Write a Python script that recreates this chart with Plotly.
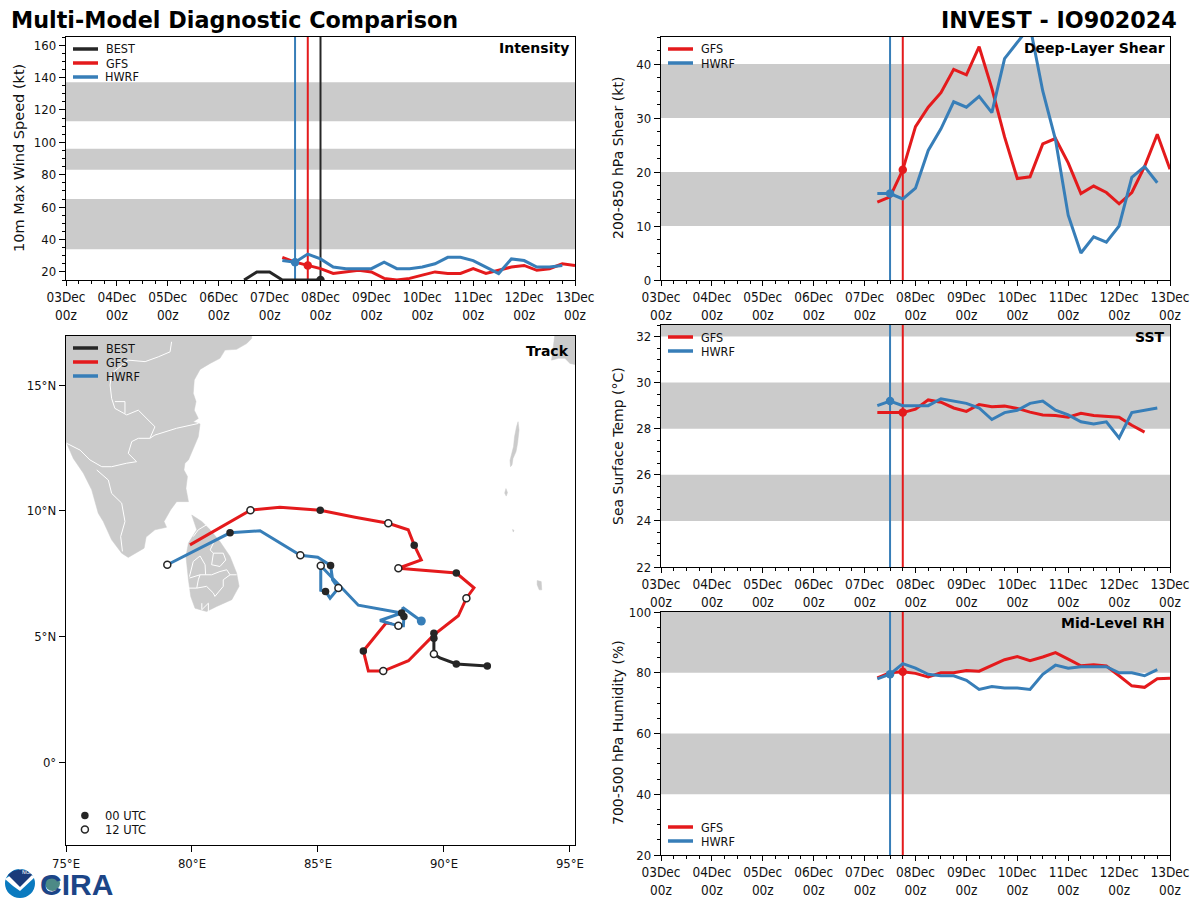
# Multi-model diagnostic comparison for invest IO902024
import pandas as pd
import plotly.graph_objects as go

RED = "#e41a1c"
BLUE = "#377eb8"
BLACK = "#262626"
GREY = "#cbcbcb"

TICK_FONT = "DejaVu Sans Condensed, Liberation Sans Narrow, DejaVu Sans"
TEXT_FONT = "DejaVu Sans"

# forecast values, 6-hourly, first GFS / HWRF point is 07Dec 06z
best_wind = [15, 20, 20, 15, 15, 15, 15]
gfs_wind = [29, 26, 24, 22, 19, 20, 21, 20, 16, 15, 16, 18, 20, 19, 19, 22, 19, 21, 23, 24, 21, 22, 25, 24]
hwrf_wind = [27, 26, 31, 28, 23, 22, 22, 22, 26, 22, 22, 23, 25, 29, 29, 27, 23, 19, 28, 27, 23, 23, 24]

gfs_shear = [14.4, 15.4, 20.4, 28.4, 32, 34.7, 39, 38, 43.2, 35.5, 26.5, 18.8, 19.1, 25.2, 26.2, 21.7, 16, 17.4,
             16.2, 14.1, 16.2, 21, 27, 20.5]
hwrf_shear = [16, 16, 15, 17, 24, 28, 33, 32, 34, 31, 41, 44, 47, 35, 26, 12, 5, 8, 7, 10, 19, 21, 18]

gfs_sst = [28.7, 28.7, 28.7, 28.85, 29.25, 29.15, 28.9, 28.75, 29.05, 28.95, 28.98, 28.88, 28.72, 28.6, 28.57, 28.5,
           28.67, 28.57, 28.53, 28.5, 28.15, 27.85]
hwrf_sst = [29, 29.2, 29, 29, 29, 29.3, 29.2, 29.1, 28.9, 28.4, 28.7, 28.8, 29.1, 29.2, 28.8, 28.6, 28.3, 28.2, 28.3,
            27.6, 28.7, 28.8, 28.9]

gfs_rh = [78.3, 80, 80.3, 79.8, 78.6, 80, 80, 80.7, 80.5, 82.5, 84.3, 85.3, 84, 85.2, 86.6, 84.5, 82.3, 82.6, 82.2,
          79, 75.7, 75.2, 78, 78.2]
hwrf_rh = [78, 79.5, 83, 81.5, 79.5, 79, 79, 77.5, 74.5, 75.5, 75, 75, 74.5, 79.5, 82.5, 81.5, 82, 82, 82, 80, 80,
           79, 81]

# shaded bands per panel
wind_bands = [(34, 65), (83, 96)]
wind_top_band = (113, 137)
shear_bands = [(10, 20), (30, 40)]
sst_bands = [(24, 26), (28, 30), (32, 34)]
rh_bands = [(40, 60), (80, 100)]

# tracks
best_lon = [91.72, 91.10, 90.49, 89.84, 89.60, 89.60, 89.60]
best_lat = [3.82, 3.85, 3.90, 4.14, 4.30, 4.93, 5.12]
gfs_lon = [87.92, 87.70, 86.80, 87.00, 87.59, 88.59, 89.60, 90.57, 90.89, 91.19, 90.49, 88.19, 89.10, 88.82, 88.58,
           87.79, 86.47, 85.09, 83.49, 82.32, 79.92]
gfs_lat = [5.50, 5.53, 4.42, 3.62, 3.62, 4.03, 5.06, 5.82, 6.52, 6.93, 7.52, 7.71, 8.04, 8.63, 9.24, 9.50, 9.74,
           10.02, 10.14, 10.02, 8.64]
hwrf_lon = [89.10, 88.36, 88.41, 88.39, 88.19, 87.46, 88.32, 86.60, 85.11, 85.11, 85.30, 85.48, 85.81, 85.58, 85.50,
            84.99, 84.30, 82.70, 81.51, 79.02]
hwrf_lat = [5.61, 6.15, 5.79, 5.42, 5.42, 5.63, 5.93, 6.24, 7.81, 6.83, 6.79, 6.52, 6.92, 7.25, 7.82, 8.15, 8.23,
            9.20, 9.12, 7.85]

utc00_lon = [91.72, 90.49, 89.60, 89.60, 86.80, 90.49, 88.82, 85.09, 88.32, 88.41, 85.30, 85.50, 81.51]
utc00_lat = [3.82, 3.90, 4.93, 5.12, 4.42, 7.52, 8.63, 10.02, 5.93, 5.79, 6.79, 7.82, 9.12]
utc12_lon = [89.60, 87.59, 90.89, 88.19, 87.79, 82.32, 88.19, 85.11, 85.81, 84.30, 79.02]
utc12_lat = [4.30, 3.62, 6.52, 7.71, 9.50, 10.02, 5.42, 7.81, 6.92, 8.23, 7.85]

# land
india_lon = [75.0, 82.37, 82.37, 82.17, 81.77, 81.31, 81.11, 80.72, 80.32, 80.09, 80.05, 80.16, 80.09, 80.25, 80.05,
             80.32, 80.25, 80.05, 79.86, 79.72, 79.68, 79.82, 79.76, 79.86, 79.39, 79.15, 78.89, 78.99, 78.53, 78.18,
             78.10, 77.47, 77.21, 76.81, 76.48, 76.28, 76.02, 75.69, 75.29, 75.0]
india_lat = [17.0, 17.0, 16.85, 16.65, 16.42, 16.39, 16.06, 15.86, 15.62, 15.20, 14.67, 14.34, 14.00, 13.67, 13.54,
             13.45, 12.94, 12.48, 12.02, 11.89, 11.62, 11.36, 10.89, 10.36, 10.36, 10.03, 9.57, 9.34, 9.24, 8.95,
             8.51, 8.14, 8.31, 8.84, 9.57, 9.90, 10.83, 11.49, 12.08, 12.75]
lanka_lon = [79.99, 80.39, 80.72, 81.11, 81.51, 81.77, 81.87, 81.58, 80.98, 80.58, 80.12, 79.95, 79.86, 79.76, 79.86,
             80.19]
lanka_lat = [9.83, 9.57, 9.24, 8.77, 8.18, 7.52, 6.99, 6.46, 6.19, 5.99, 6.12, 6.59, 7.25, 8.18, 8.71, 9.24]
myanmar_lon = [94.40, 95.3, 95.3, 95.0, 94.8, 94.54, 94.27]
myanmar_lat = [17.0, 17.0, 15.79, 15.86, 16.06, 16.06, 15.99]
islands = [
    ([92.94, 92.98, 92.92, 92.86, 92.74, 92.70, 92.64, 92.62, 92.76, 92.80, 92.88],
     [13.54, 13.21, 12.68, 12.35, 12.08, 11.82, 11.75, 12.0, 12.55, 12.94, 13.34]),
    ([92.46, 92.52, 92.47, 92.41], [10.88, 10.72, 10.58, 10.70]),
    ([92.72, 92.78, 92.75], [9.25, 9.22, 9.15]),
    ([93.70, 93.86, 93.88, 93.78, 93.70], [7.22, 7.18, 6.85, 6.85, 7.05]),
]

# white state / district lines
border_lines = [
    ([79.19, 79.13, 78.66, 78.14, 77.47, 76.81, 76.75, 76.81, 76.94, 77.41, 77.87, 78.14, 78.53, 78.33, 78.53, 79.39,
      80.25],
     [16.72, 16.32, 16.12, 15.93, 15.99, 15.46, 15.0, 14.47, 14.07, 13.81, 14.0, 13.74, 13.34, 12.88, 13.01, 13.28,
      13.47]),
    ([76.94, 77.34, 77.34], [14.34, 14.34, 13.87]),
    ([75.03, 75.56, 75.95, 76.42, 76.81, 77.41, 77.80, 77.47, 77.61, 77.87, 78.33],
     [12.68, 12.41, 12.02, 11.75, 11.75, 11.89, 11.95, 12.28, 12.75, 12.88, 12.88]),
    ([76.22, 76.68, 76.81, 77.21, 77.34, 77.17, 77.24], [11.62, 11.22, 10.69, 10.30, 9.57, 8.97, 8.38]),
    ([79.90, 80.05, 80.32, 80.52, 80.54], [7.38, 7.98, 8.20, 7.85, 7.45]),
    ([79.90, 80.32, 80.54, 80.78, 81.11, 81.38, 81.51, 81.77], [7.32, 7.45, 7.45, 7.45, 7.58, 7.65, 7.45, 7.45]),
    ([80.78, 80.85, 81.24, 81.34, 81.11, 80.78], [7.85, 8.31, 8.31, 8.04, 7.78, 7.85]),
    ([79.86, 80.19, 80.25, 80.32], [6.92, 6.92, 7.25, 7.45]),
    ([80.19, 80.58, 80.85, 80.91, 81.24, 81.24, 81.51], [6.92, 6.99, 6.72, 6.59, 6.99, 7.25, 7.45]),
    ([80.39, 80.39, 80.65, 80.65], [6.32, 6.06, 6.32, 5.99]),
    ([80.85, 80.72, 80.85], [8.71, 8.44, 8.31]),
    ([80.58, 80.25, 80.05], [9.44, 9.24, 8.97]),
]

day_vals = ["2024-12-%02d" % d for d in range(3, 14)]
day_text = ["%02dDec<br>00z" % d for d in range(3, 14)]
lon_vals = [75, 80, 85, 90, 95]
lon_text = ["75°E", "80°E", "85°E", "90°E", "95°E"]
lat_vals = [0, 5, 10, 15]
lat_text = ["0°", "5°N", "10°N", "15°N"]

best_times = pd.date_range("2024-12-06 12:00", periods=len(best_wind), freq="6h")
model_start = "2024-12-07 06:00"
x_start = "2024-12-03"
x_end = "2024-12-13"


def model_times(values):
    return pd.date_range(model_start, periods=len(values), freq="6h")


def px_x(px):
    return px / 1200


def px_y(py):
    return 1 - py / 900


fig = go.Figure()


def time_axes(n, left, right, top, bottom, yrange, yticks, yminor):
    # date axis + value axis for one time series panel
    xname = "xaxis" if n == 1 else "xaxis%d" % n
    yname = "yaxis" if n == 1 else "yaxis%d" % n
    fig.layout[xname] = dict(
        domain=[px_x(left), px_x(right)], anchor="y" if n == 1 else "y%d" % n, type="date",
        range=[x_start, x_end], tickmode="array", tickvals=day_vals, ticktext=day_text,
        ticks="outside", ticklen=5, tickwidth=1.2, tickcolor="black", showgrid=False, zeroline=False,
        minor=dict(dtick=21600000, tick0=x_start, ticks="outside", ticklen=3, tickcolor="black", showgrid=False),
        showline=True, linecolor="black", linewidth=1.4, mirror=True, tickangle=0,
        tickfont=dict(family=TICK_FONT, size=13.5, color="#111111"),
    )
    fig.layout[yname] = dict(
        domain=[px_y(bottom), px_y(top)], anchor="x" if n == 1 else "x%d" % n, range=yrange,
        tickmode="array", tickvals=yticks, ticks="outside", ticklen=6, tickwidth=1.2, tickcolor="black",
        showgrid=False, zeroline=False,
        minor=dict(dtick=yminor, ticks="outside", ticklen=3, tickcolor="black", showgrid=False),
        showline=True, linecolor="black", linewidth=1.4, mirror=True,
        tickfont=dict(family=TICK_FONT, size=13, color="#111111"),
    )


def add_bands(n, bands):
    suffix = "" if n == 1 else str(n)
    for low, high in bands:
        fig.add_shape(type="rect", xref="x%s domain" % suffix, yref="y" + suffix, x0=0, x1=1, y0=low, y1=high,
                      fillcolor=GREY, line_width=0, layer="below")


def add_vline(n, when, color, yrange):
    suffix = "" if n == 1 else str(n)
    fig.add_trace(go.Scatter(x=[when, when], y=yrange, mode="lines", line=dict(color=color, width=2),
                             showlegend=False, xaxis="x" + suffix, yaxis="y" + suffix))


def add_series(n, times, values, color, marker_at):
    suffix = "" if n == 1 else str(n)
    fig.add_trace(go.Scatter(x=times, y=values, mode="lines", line=dict(color=color, width=3), showlegend=False,
                             xaxis="x" + suffix, yaxis="y" + suffix))
    fig.add_trace(go.Scatter(x=[times[marker_at]], y=[values[marker_at]], mode="markers", showlegend=False,
                             marker=dict(color=color, size=8.5), xaxis="x" + suffix, yaxis="y" + suffix))


def add_legend(left, first_y, names, skip_text=()):
    for i, (name, color) in enumerate(names):
        y = first_y + 14 * i
        fig.add_shape(type="line", xref="paper", yref="paper", x0=px_x(left), x1=px_x(left + 25), y0=px_y(y),
                      y1=px_y(y), line=dict(color=color, width=3.5))
        if name in skip_text:
            continue
        fig.add_annotation(xref="paper", yref="paper", x=px_x(left + 31), y=px_y(y), text=name, showarrow=False,
                           xanchor="left", yanchor="middle", font=dict(family=TICK_FONT, size=12.5, color="#111111"))


def add_tag(right, y, text):
    fig.add_annotation(xref="paper", yref="paper", x=px_x(right), y=px_y(y), text="<b>%s</b>" % text, showarrow=False,
                       xanchor="right", yanchor="middle", font=dict(family=TEXT_FONT, size=14, color="black"))


def add_ylabel(x, y, text, size=14):
    fig.add_annotation(xref="paper", yref="paper", x=px_x(x), y=px_y(y), text=text, showarrow=False, textangle=-90,
                       xanchor="center", yanchor="middle", font=dict(family=TEXT_FONT, size=size, color="#111111"))


wind_range = [15, 165]
shear_range = [0, 45]
sst_range = [22, 32.5]
rh_range = [20, 100]

time_axes(1, 66, 575, 37, 280, wind_range, [20, 40, 60, 80, 100, 120, 140, 160], 5)
time_axes(2, 661, 1170, 37, 280, shear_range, [0, 10, 20, 30, 40], 2.5)
time_axes(4, 661, 1170, 325, 567, sst_range, [22, 24, 26, 28, 30, 32], 0.5)
time_axes(5, 661, 1170, 612, 855, rh_range, [20, 40, 60, 80, 100], 5)

add_bands(1, wind_bands)
add_bands(2, shear_bands)
add_bands(4, sst_bands)
add_bands(5, rh_bands)

# the top wind band sits over the HWRF legend label, so both go in as traces
fig.add_trace(go.Scatter(x=["2024-12-03 18:24"], y=[140], mode="text", text=["HWRF"], textposition="middle right",
                         textfont=dict(family=TICK_FONT, size=12.5, color="#111111"), showlegend=False))
fig.add_trace(go.Scatter(x=[x_start, x_end, x_end, x_start], y=[wind_top_band[0], wind_top_band[0], wind_top_band[1],
                                                               wind_top_band[1]],
                         mode="lines", fill="toself", fillcolor=GREY, line=dict(width=0), showlegend=False))

for n, yrange in [(1, wind_range), (2, shear_range), (4, sst_range), (5, rh_range)]:
    add_vline(n, "2024-12-07 12:00", BLUE, yrange)
    add_vline(n, "2024-12-07 18:00", RED, yrange)
add_vline(1, "2024-12-08 00:00", BLACK, wind_range)

add_series(1, best_times, best_wind, BLACK, 6)
add_series(1, model_times(gfs_wind), gfs_wind, RED, 2)
add_series(1, model_times(hwrf_wind), hwrf_wind, BLUE, 1)
add_series(2, model_times(gfs_shear), gfs_shear, RED, 2)
add_series(2, model_times(hwrf_shear), hwrf_shear, BLUE, 1)
add_series(4, model_times(gfs_sst), gfs_sst, RED, 2)
add_series(4, model_times(hwrf_sst), hwrf_sst, BLUE, 1)
add_series(5, model_times(gfs_rh), gfs_rh, RED, 2)
add_series(5, model_times(hwrf_rh), hwrf_rh, BLUE, 1)

# track map
fig.update_layout(
    xaxis3=dict(domain=[px_x(66), px_x(575)], anchor="y3", range=[75, 95.2], tickmode="array", tickvals=lon_vals,
                ticktext=lon_text, ticks="outside", ticklen=6, tickwidth=1.2, tickcolor="black", showgrid=False,
                zeroline=False, showline=True, linecolor="black", linewidth=1.4, mirror=True,
                tickfont=dict(family=TICK_FONT, size=13, color="#111111")),
    yaxis3=dict(domain=[px_y(845), px_y(336)], anchor="x3", range=[-3.3, 16.95], tickmode="array", tickvals=lat_vals,
                ticktext=lat_text, ticks="outside", ticklen=6, tickwidth=1.2, tickcolor="black", showgrid=False,
                zeroline=False, showline=True, linecolor="black", linewidth=1.4, mirror=True,
                tickfont=dict(family=TICK_FONT, size=13, color="#111111")),
)


def add_land(lon, lat):
    fig.add_trace(go.Scatter(x=lon + lon[:1], y=lat + lat[:1], mode="lines", fill="toself", fillcolor=GREY,
                             line=dict(color=GREY, width=0.5), showlegend=False, xaxis="x3", yaxis="y3"))


add_land(india_lon, india_lat)
add_land(lanka_lon, lanka_lat)
add_land(myanmar_lon, myanmar_lat)
for lon, lat in islands:
    add_land(lon, lat)
for lon, lat in border_lines:
    fig.add_trace(go.Scatter(x=lon, y=lat, mode="lines", line=dict(color="white", width=1), showlegend=False,
                             xaxis="x3", yaxis="y3"))

for lon, lat, color in [(best_lon, best_lat, BLACK), (gfs_lon, gfs_lat, RED), (hwrf_lon, hwrf_lat, BLUE)]:
    fig.add_trace(go.Scatter(x=lon, y=lat, mode="lines", line=dict(color=color, width=3), showlegend=False,
                             xaxis="x3", yaxis="y3"))
fig.add_trace(go.Scatter(x=hwrf_lon[:1], y=hwrf_lat[:1], mode="markers", marker=dict(color=BLUE, size=9),
                         showlegend=False, xaxis="x3", yaxis="y3"))
fig.add_trace(go.Scatter(x=utc00_lon, y=utc00_lat, mode="markers", marker=dict(color=BLACK, size=7.5),
                         showlegend=False, xaxis="x3", yaxis="y3"))
fig.add_trace(go.Scatter(x=utc12_lon, y=utc12_lat, mode="markers",
                         marker=dict(color="white", size=7, line=dict(color=BLACK, width=1.5)),
                         showlegend=False, xaxis="x3", yaxis="y3"))

# legends
add_legend(73, 49, [("BEST", BLACK), ("GFS", RED), ("HWRF", BLUE)], skip_text=("HWRF",))
add_legend(73, 348, [("BEST", BLACK), ("GFS", RED), ("HWRF", BLUE)])
add_legend(668, 49, [("GFS", RED), ("HWRF", BLUE)])
add_legend(668, 337, [("GFS", RED), ("HWRF", BLUE)])
add_legend(668, 827, [("GFS", RED), ("HWRF", BLUE)])

# 00/12 UTC key in the track panel
fig.add_trace(go.Scatter(x=[75.75], y=[-2.13], mode="markers", marker=dict(color=BLACK, size=7.5), showlegend=False,
                         xaxis="x3", yaxis="y3"))
fig.add_trace(go.Scatter(x=[75.75], y=[-2.68], mode="markers",
                         marker=dict(color="white", size=7, line=dict(color=BLACK, width=1.5)), showlegend=False,
                         xaxis="x3", yaxis="y3"))
for y, text in [(816, "00 UTC"), (830, "12 UTC")]:
    fig.add_annotation(xref="paper", yref="paper", x=px_x(103), y=px_y(y), text=text, showarrow=False, xanchor="left",
                       yanchor="middle", font=dict(family=TEXT_FONT, size=11.5, color="#111111"))

add_tag(571, 48, "Intensity")
add_tag(1167, 48, "Deep-Layer Shear")
add_tag(571, 351, "Track")
add_tag(1167, 337, "SST")
add_tag(1167, 623, "Mid-Level RH")

add_ylabel(19, 158, "10m Max Wind Speed (kt)", size=14.5)
add_ylabel(618, 158, "200-850 hPa Shear (kt)")
add_ylabel(618, 446, "Sea Surface Temp (°C)")
add_ylabel(618, 733, "700-500 hPa Humidity (%)")

fig.add_annotation(xref="paper", yref="paper", x=px_x(9), y=px_y(20), text="<b>Multi-Model Diagnostic Comparison</b>",
                   showarrow=False, xanchor="left", yanchor="middle", font=dict(family=TEXT_FONT, size=22.3, color="black"))
fig.add_annotation(xref="paper", yref="paper", x=px_x(1179), y=px_y(20), text="<b>INVEST - IO902024</b>",
                   showarrow=False, xanchor="right", yanchor="middle", font=dict(family=TEXT_FONT, size=22.3, color="black"))

# logos, rough
fig.add_shape(type="circle", xref="paper", yref="paper", x0=px_x(5), x1=px_x(35), y0=px_y(898), y1=px_y(869),
              fillcolor="#0a7abf", line_width=0)
fig.add_shape(type="path", xref="paper", yref="paper", fillcolor="white", line_width=0,
              path="M %f %f L %f %f L %f %f L %f %f L %f %f Z" % (
                  px_x(5), px_y(879), px_x(13), px_y(886), px_x(20), px_y(891), px_x(35), px_y(877), px_x(20), px_y(869)))
fig.add_shape(type="path", xref="paper", yref="paper", fillcolor="#1a3b7a", line_width=0,
              path="M %f %f L %f %f L %f %f L %f %f L %f %f L %f %f L %f %f Z" % (
                  px_x(8), px_y(875), px_x(13), px_y(871), px_x(20), px_y(869.5), px_x(27), px_y(871),
                  px_x(32), px_y(875), px_x(20), px_y(887), px_x(14), px_y(881)))
fig.add_shape(type="circle", xref="paper", yref="paper", x0=px_x(45), x1=px_x(60), y0=px_y(891), y1=px_y(876),
              fillcolor="#4d8a86", line_width=0)
fig.add_annotation(xref="paper", yref="paper", x=px_x(20), y=px_y(877), text="NOAA", showarrow=False,
                   font=dict(family=TEXT_FONT, size=5, color="white"))
fig.add_annotation(xref="paper", yref="paper", x=px_x(38), y=px_y(884), text="<b>CIRA</b>", showarrow=False,
                   xanchor="left", yanchor="middle", font=dict(family="Liberation Sans", size=30, color="#1c4587"))

fig.update_layout(width=1200, height=900, margin=dict(l=0, r=0, t=0, b=0, autoexpand=False), plot_bgcolor="white",
                  paper_bgcolor="white", showlegend=False)

# default page margin would push the figure 8px off
fig.write_html("out.html", config={"displayModeBar": False}, post_script="document.body.style.margin = '0';")
